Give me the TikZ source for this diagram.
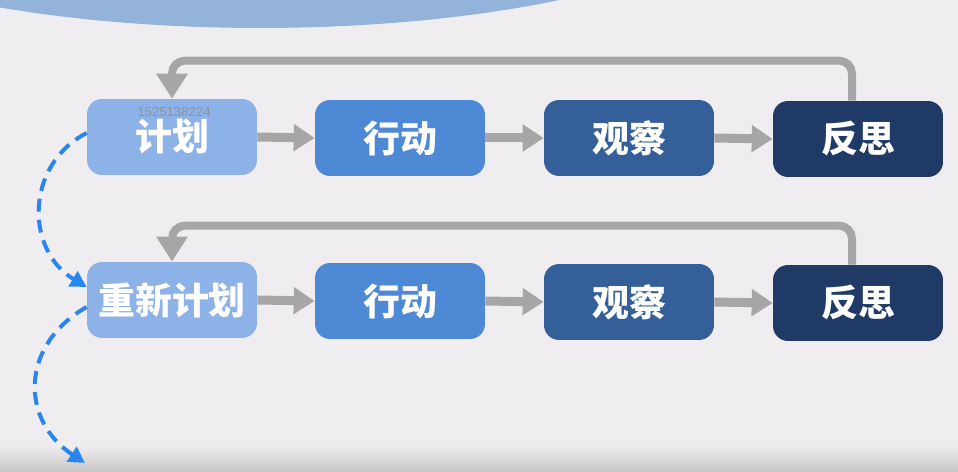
\documentclass[tikz,border=0pt]{standalone}
\usepackage{fontspec}
\newfontfamily\cjk{Noto Sans CJK SC}
\newfontfamily\markfont{Liberation Sans}
\usetikzlibrary{arrows.meta}

\definecolor{bgpaper}{HTML}{F0EDF0}
\definecolor{bgblob}{HTML}{94B3DA}
\definecolor{stageA}{HTML}{8DB2E7}
\definecolor{stageB}{HTML}{4E89D6}
\definecolor{stageC}{HTML}{345F98}
\definecolor{stageD}{HTML}{1F3A66}
\definecolor{flowgray}{HTML}{A6A6A6}
\definecolor{replanblue}{HTML}{2A86EE}

\begin{document}
\begin{tikzpicture}[x=0.02cm, y=-0.02cm,
    stage/.style={rounded corners=0.3cm, minimum width=3.4cm, minimum height=1.52cm,
      text=white, font=\cjk\bfseries\fontsize{21}{25}\selectfont, inner sep=0pt},
    flow/.style={draw=flowgray, line width=0.18cm,
      -{Triangle[length=0.42cm, width=0.52cm]}},
    loopback/.style={draw=flowgray, line width=0.16cm, rounded corners=0.26cm,
      -{Triangle[length=0.5cm, width=0.6cm]}},
    replan/.style={draw=replanblue, line width=0.08cm,
      dash pattern=on 0.26cm off 0.16cm,
      -{Triangle[length=0.32cm, width=0.34cm]}}
  ]

  % Hintergrund
  \useasboundingbox (0,0) rectangle (958,472);
  \fill[bgpaper] (0,0) rectangle (958,472);
  \begin{scope}
    \clip (0,0) rectangle (958,472);
    \fill[bgblob] (260,-122) ellipse [x radius=10.3cm, y radius=3cm];
    \shade[top color=bgpaper, bottom color=black!22] (0,445) rectangle (958,472);
  \end{scope}

  % erste Runde
  \node[stage, fill=stageA] (plan1) at (172,137) {\raisebox{-0.06cm}{计划}};
  \node[stage, fill=stageB] (act1)  at (400,138) {行动};
  \node[stage, fill=stageC] (obs1)  at (629,138) {观察};
  \node[stage, fill=stageD] (refl1) at (858,139) {反思};

  % zweite Runde
  \node[stage, fill=stageA] (plan2) at (172,300) {重新计划};
  \node[stage, fill=stageB] (act2)  at (400,301) {行动};
  \node[stage, fill=stageC] (obs2)  at (629,302) {观察};
  \node[stage, fill=stageD] (refl2) at (858,303) {反思};

  % Wasserzeichen
  \node[font=\markfont\fontsize{7.5}{8}\selectfont, text=black!45, opacity=0.8]
    (mark) at (174,112) {1525138224};

  % Pfeile zwischen den Schritten
  \foreach \a/\b in {plan1/act1, act1/obs1, obs1/refl1,
                     plan2/act2, act2/obs2, obs2/refl2}
    \draw[flow] (\a.east) -- (\b.west);

  % Rueckfuehrung oben
  \draw[loopback] ([xshift=-0.12cm]refl1.north) -- ++(0,-40) -| (plan1.north);
  \draw[loopback] ([xshift=-0.12cm]refl2.north) -- ++(0,-39) -| (plan2.north);

  % naechste Runde (gestrichelt)
  \coordinate (next) at (85,463);
  \draw[replan] ([yshift=0.08cm]plan1.west) .. controls (25,165) and (25,250) .. ([yshift=0.26cm]plan2.west);
  \draw[replan] ([yshift=-0.14cm]plan2.west) .. controls (20,345) and (20,420) .. (next);

\end{tikzpicture}
\end{document}
